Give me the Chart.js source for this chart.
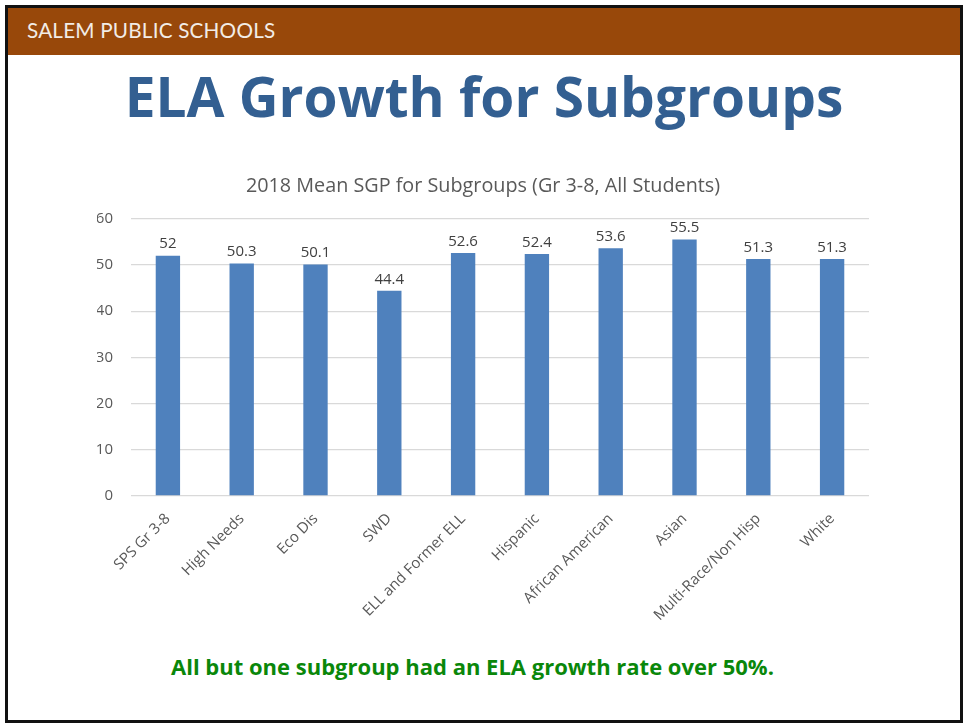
<!DOCTYPE html>
<html>
<head>
<meta charset="utf-8">
<script src="https://cdn.jsdelivr.net/npm/chart.js@4.4.0/dist/chart.umd.min.js"></script>
<style>
  html, body { margin: 0; padding: 0; background: #fff; }
  #slide {
    position: relative; width: 964px; height: 724px; overflow: hidden;
    font-family: "Open Sans", "Noto Sans", sans-serif;
  }
  #frame {
    position: absolute; left: 5px; top: 5px; width: 952px; height: 712px;
    border: 3px solid #111; box-sizing: content-box;
  }
  #header {
    position: absolute; left: 8px; top: 8px; width: 952px; height: 47px;
    background: #98480a;
  }
  #header span {
    position: absolute; left: 19px; top: 10px; color: #f2ece6;
    font-family: Lato, "Open Sans", sans-serif; font-size: 20.7px; letter-spacing: 0.2px;
  }
  #title {
    position: absolute; left: 0; width: 968px; top: 58px; text-align: center;
    color: #335f91; font-weight: bold; font-size: 55px; line-height: 76px;
  }
  #note {
    position: absolute; left: 0; width: 945px; top: 651px; text-align: center;
    color: #0a870a; font-weight: bold; font-size: 22px;
  }
  #chartBox { position: absolute; left: 40px; top: 160px; width: 884px; height: 490px; }
</style>
</head>
<body>
<div id="slide">
  <div id="frame"></div>
  <div id="header"><span>SALEM PUBLIC SCHOOLS</span></div>
  <div id="title">ELA Growth for Subgroups</div>
  <div id="chartBox"><canvas id="sgpChart"></canvas></div>
  <div id="note">All but one subgroup had an ELA growth rate over 50%.</div>
</div>
<script>
const subgroups = ['SPS Gr 3-8', 'High Needs', 'Eco Dis', 'SWD', 'ELL and Former ELL',
    'Hispanic', 'African American', 'Asian', 'Multi-Race/Non Hisp', 'White']
const meanSgp = [52, 50.3, 50.1, 44.4, 52.6, 52.4, 53.6, 55.5, 51.3, 51.3]
const yTicks = [0, 10, 20, 30, 40, 50, 60]

// draws the number above each bar
const barValues = {
    id: 'barValues',
    afterDatasetsDraw(chart) {
        const ctx = chart.ctx
        const meta = chart.getDatasetMeta(0)
        ctx.save()
        ctx.font = '15px "Open Sans", sans-serif'
        ctx.fillStyle = '#404040'
        ctx.textAlign = 'center'
        ctx.textBaseline = 'bottom'
        meta.data.forEach((bar, i) => {
            ctx.fillText(String(meanSgp[i]), bar.x, bar.y - 4)
        })
        ctx.restore()
    }
}

const ctx = document.getElementById('sgpChart').getContext('2d')
const chart = new Chart(ctx, {
    type: 'bar',
    data: {
        labels: subgroups,
        datasets: [{
            label: '2018 Mean SGP',
            data: meanSgp,
            backgroundColor: '#4f81bd',
            borderWidth: 0,
            categoryPercentage: 1,
            barPercentage: 0.33,
        }]
    },
    options: {
        responsive: true,
        maintainAspectRatio: false,
        animation: false,
        layout: {padding: {left: 57, right: 55, top: 0, bottom: 0}},
        plugins: {
            legend: {display: false},
            tooltip: {enabled: false},
            title: {
                display: true,
                text: '2018 Mean SGP for Subgroups (Gr 3-8, All Students)',
                color: '#595959',
                font: {family: '"Open Sans", sans-serif', size: 19.8, weight: 'normal'},
                padding: {top: 14, bottom: 21},
            }
        },
        scales: {
            x: {
                grid: {display: false},
                border: {display: false},
                ticks: {
                    color: '#595959',
                    font: {family: '"Open Sans", sans-serif', size: 15},
                    minRotation: 45,
                    maxRotation: 45,
                    padding: 6,
                    autoSkip: false,
                },
                afterFit(scale) { scale.height = 154 },
            },
            y: {
                min: 0,
                max: 60,
                afterBuildTicks(scale) { scale.ticks = yTicks.map(v => ({value: v})) },
                grid: {color: '#d9d9d9', lineWidth: 1.3, drawTicks: false},
                border: {display: false},
                ticks: {
                    color: '#595959',
                    font: {family: '"Open Sans", sans-serif', size: 15},
                    padding: 18,
                },
                afterFit(scale) { scale.width = 34 },
            }
        }
    },
    plugins: [barValues]
})
</script>
</body>
</html>
